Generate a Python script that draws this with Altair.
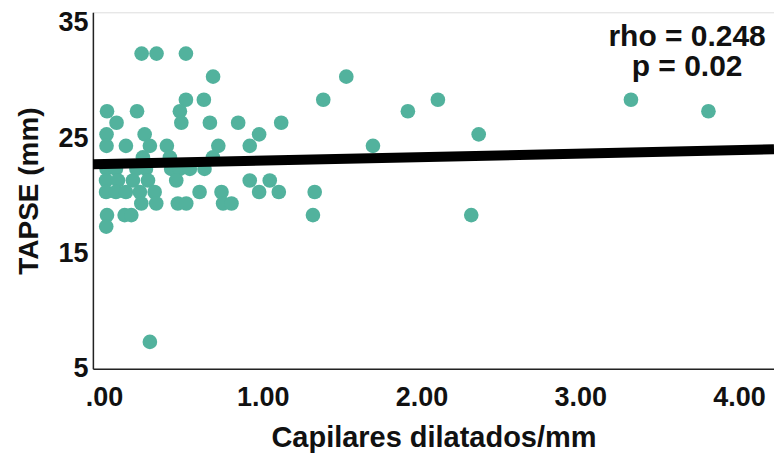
import altair as alt
import pandas as pd

# Capilares dilatados/mm (x) and TAPSE in mm (y)
capilares = [
    0.237, 0.331, 0.516,
    0.687, 1.526,
    0.516, 0.629, 1.381, 2.103, 3.319,
    0.019, 0.208, 0.478, 1.914, 3.807,
    0.079, 0.487, 0.667, 0.845, 1.116,
    0.016, 0.256, 0.977, 2.360,
    0.016, 0.138, 0.289, 0.396, 0.720, 0.918, 1.694,
    0.245, 0.415, 0.686,
    0.016, 0.075, 0.204, 0.264, 0.423, 0.478, 0.541, 0.633,
    0.013, 0.088, 0.182, 0.277, 0.455, 0.918, 1.044,
    0.013, 0.075, 0.138, 0.226, 0.319, 0.602, 0.740, 0.977, 1.101, 1.327,
    0.235, 0.329, 0.465, 0.518, 0.750, 0.803,
    0.019, 0.130, 0.172, 1.316, 2.313,
    0.014,
    0.289,
]
tapse = (
    [32] * 3 + [30] * 2 + [28] * 5 + [27] * 5 + [26] * 5 + [25] * 4 + [24] * 7
    + [23] * 3 + [22] * 8 + [21] * 7 + [20] * 10 + [19] * 6 + [18] * 5 + [17] * 1 + [7] * 1
)

fit_x = [-0.07, 4.22]
fit_y = [22.4, 23.7]

annot_text = ["rho = 0.248", "p = 0.02"]

pts = pd.DataFrame({"x": capilares, "y": tapse})
fit = pd.DataFrame({"x": fit_x, "y": fit_y})
ann = pd.DataFrame({"t": ["\n".join(annot_text)]})

xscale = alt.Scale(domain=[-0.07, 4.22], nice=False, zero=False)
yscale = alt.Scale(domain=[4.67, 35.58], nice=False, zero=False)

xaxis = alt.Axis(
    title="Capilares dilatados/mm", values=[0, 1, 2, 3, 4],
    labelExpr="datum.value == 0 ? '.00' : format(datum.value, '.2f')",
    grid=False, ticks=False, domainColor="#222222", domainWidth=1.5,
    labelFont="Liberation Sans", labelFontWeight="bold", labelFontSize=27, labelColor="#111111",
    labelPadding=16, titleFont="Liberation Sans", titleFontWeight="bold", titleFontSize=29,
    titleColor="#111111", titlePadding=13,
)
yaxis = alt.Axis(
    title="TAPSE (mm)", values=[5, 15, 25, 35],
    grid=False, ticks=False, domainColor="#222222", domainWidth=1.5,
    labelFont="Liberation Sans", labelFontWeight="bold", labelFontSize=27, labelColor="#111111",
    labelPadding=5, labelOffset=4, titleFont="Liberation Sans", titleFontWeight="bold", titleFontSize=28,
    titleColor="#111111", titlePadding=14,
)

points = alt.Chart(pts).mark_circle(size=215, opacity=1, color="#52B29D").encode(
    x=alt.X("x:Q", scale=xscale, axis=xaxis),
    y=alt.Y("y:Q", scale=yscale, axis=yaxis),
)

line = alt.Chart(fit).mark_line(color="#000000", strokeWidth=10, clip=True).encode(
    x=alt.X("x:Q", scale=xscale),
    y=alt.Y("y:Q", scale=yscale),
)

text = alt.Chart(ann).mark_text(
    font="Liberation Sans", fontWeight="bold", fontSize=30, color="#111111",
    align="center", baseline="middle", lineBreak="\n", lineHeight=30,
).encode(
    text="t:N",
    x=alt.value(595),
    y=alt.value(25),
)

chart = alt.layer(points, line, text).properties(
    width=682, height=357,
    autosize=alt.AutoSizeParams(type="none"),
    padding={"left": 85, "top": 4, "right": 0, "bottom": 88},
).configure_view(stroke=None).configure(background="white")

chart.save("out.html", embed_options={"renderer": "svg", "actions": False})
